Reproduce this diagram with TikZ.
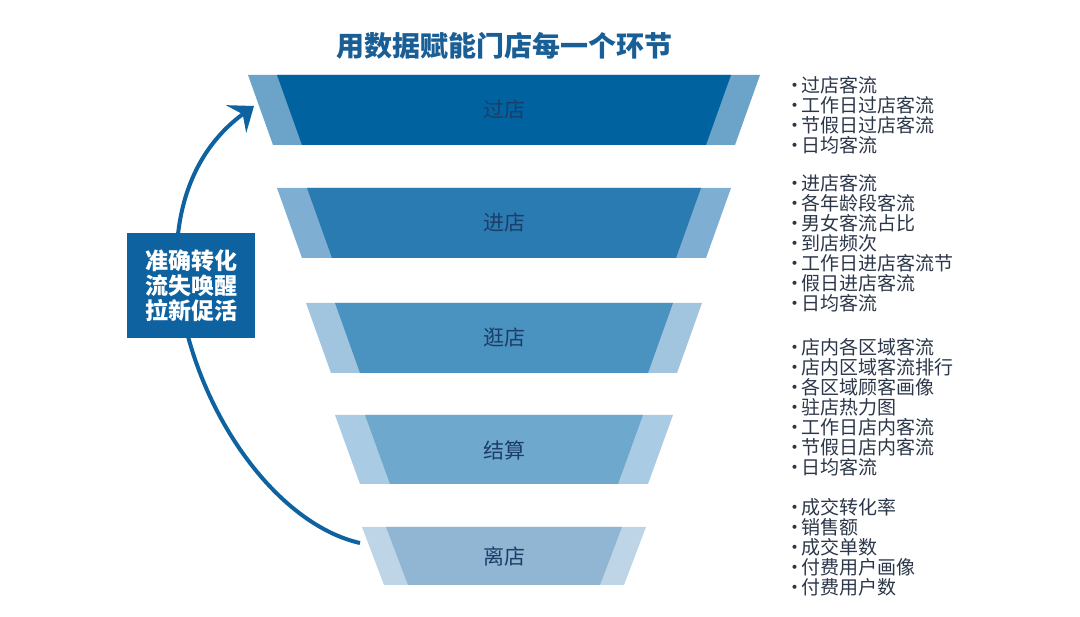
\documentclass[tikz,border=0pt]{standalone}
\usepackage{fontspec}
\setmainfont{Noto Sans CJK SC}
\usetikzlibrary{arrows.meta}
\definecolor{titleblue}{HTML}{1A5E96}
\definecolor{boxblue}{HTML}{0E62A0}
\definecolor{labelnavy}{HTML}{1D3D69}
\definecolor{listgray}{HTML}{2B3648}
\definecolor{darkA}{HTML}{0063A0}
\definecolor{lightA}{HTML}{6BA3C9}
\definecolor{darkB}{HTML}{2A7BB2}
\definecolor{lightB}{HTML}{7EAED2}
\definecolor{darkC}{HTML}{4A92C0}
\definecolor{lightC}{HTML}{A2C5DF}
\definecolor{darkD}{HTML}{6EA9CD}
\definecolor{lightD}{HTML}{A9CBE3}
\definecolor{darkE}{HTML}{90B6D3}
\definecolor{lightE}{HTML}{BDD5E7}
\newcommand{\idot}{\kern-5pt·\kern-3pt}

\begin{document}
\begin{tikzpicture}[x=1pt,y=-1pt,
  bandlabel/.style={text=labelnavy,font=\fontsize{21}{21}\selectfont},
  itemlist/.style={anchor=north west,inner sep=0pt,align=left,text=listgray,
    font=\fontsize{19}{20}\selectfont},
  loop arrow/.style={draw=boxblue,line width=4pt,
    -{Stealth[length=22pt,width=34pt,inset=8pt]}},
  loopbox/.style={fill=boxblue,text=white,minimum width=128pt,minimum height=105pt,
    align=center,font=\bfseries\fontsize{23}{25}\selectfont}]
\useasboundingbox (0,0) rectangle (1080,617);

% title
\draw (504,46) node[text=titleblue,font=\bfseries\fontsize{28}{28}\selectfont](title) {用数据赋能门店每一个环节};

% funnel bands
\fill[lightA] (248,75) -- (760,75) -- (735,145) -- (273,145) -- cycle;
\fill[darkA] (277,75) -- (731,75) -- (706,145) -- (302,145) -- cycle;
\fill[lightB] (277,188) -- (731,188) -- (706,258) -- (302,258) -- cycle;
\fill[darkB] (307,188) -- (701,188) -- (676,258) -- (332,258) -- cycle;
\fill[lightC] (306,303) -- (702,303) -- (677,373) -- (331,373) -- cycle;
\fill[darkC] (335,303) -- (673,303) -- (648,373) -- (360,373) -- cycle;
\fill[lightD] (335,415) -- (673,415) -- (648,484) -- (360,484) -- cycle;
\fill[darkD] (365,415) -- (643,415) -- (618,484) -- (390,484) -- cycle;
\fill[lightE] (362,527) -- (646,527) -- (624,585) -- (384,585) -- cycle;
\fill[darkE] (386,527) -- (622,527) -- (600,585) -- (408,585) -- cycle;

\draw (504,110) node[bandlabel](guodian) {过店};
\draw (504,223) node[bandlabel](jindian) {进店};
\draw (504,338) node[bandlabel](guangdian) {逛店};
\draw (504,450) node[bandlabel](jiesuan) {结算};
\draw (504,556) node[bandlabel](lidian) {离店};

% loop back arrow
\coordinate (loopstart) at (360,543);
\coordinate (loopmid) at (180,300);
\coordinate (loopend) at (254,106);
\draw[loop arrow] (loopstart) .. controls (280,525) and (200,420) .. (loopmid)
  .. controls (170,240) and (180,160) .. (loopend);
\draw (191,285.5) node[loopbox](loopnote) {准确转化\\流失唤醒\\拉新促活};

% metric lists
\draw (790,76) node[itemlist](guolist) {\idot 过店客流\\\idot 工作日过店客流\\\idot 节假日过店客流\\\idot 日均客流};
\draw (790,174) node[itemlist](jinlist) {\idot 进店客流\\\idot 各年龄段客流\\\idot 男女客流占比\\\idot 到店频次\\\idot 工作日进店客流节\\\idot 假日进店客流\\\idot 日均客流};
\draw (790,338) node[itemlist](guanglist) {\idot 店内各区域客流\\\idot 店内区域客流排行\\\idot 各区域顾客画像\\\idot 驻店热力图\\\idot 工作日店内客流\\\idot 节假日店内客流\\\idot 日均客流};
\draw (790,498) node[itemlist](lilist) {\idot 成交转化率\\\idot 销售额\\\idot 成交单数\\\idot 付费用户画像\\\idot 付费用户数};
\end{tikzpicture}
\end{document}
